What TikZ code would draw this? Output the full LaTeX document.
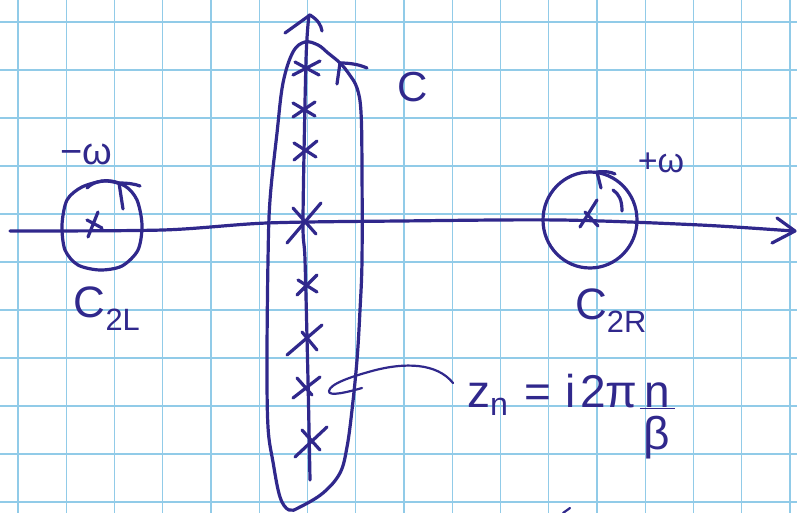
\documentclass[tikz,border=0pt]{standalone}
\usepackage{fontspec}
\setmainfont{Liberation Sans}
\definecolor{ink}{RGB}{48,40,140}
\definecolor{gridblue}{RGB}{145,203,232}
\tikzset{
  inkline/.style={draw=ink, line width=3.2pt, line cap=round, line join=round},
  inkthin/.style={draw=ink, line width=2.2pt, line cap=round, line join=round},
  gridline/.style={draw=gridblue, line width=1.2pt},
  lab/.style={text=ink, inner sep=0pt},
}
\begin{document}
\begin{tikzpicture}[x=1pt,y=-1pt]
\useasboundingbox (0,0) rectangle (797,513);
\fill[white] (0,0) rectangle (797,513);
% grid paper
\foreach \i in {0,...,16} \draw[gridline] ({18+48.25*\i},0) -- ({18+48.25*\i},513);
\foreach \j in {0,...,10} \draw[gridline] (0,{22+48*\j}) -- (797,{22+48*\j});

% pole coordinates
\coordinate (p1) at (307,68);
\coordinate (p2) at (304,109);
\coordinate (p3) at (305,150);
\coordinate (p0) at (303,221);
\coordinate (p4) at (307,285);
\coordinate (p5) at (306,338);
\coordinate (p6) at (305,388);
\coordinate (p7) at (310,441);
\coordinate (wL) at (95,226);
\coordinate (wR) at (589,214);

% real axis
\draw[inkline] plot[smooth] coordinates {(10,231) (163,230) (267,223) (400,221) (560,220) (700,225) (793,231)};
\draw[inkline] (777,218) -- (795,231) -- (772,243);

% imaginary axis
\draw[inkline] plot[smooth] coordinates {(309,15) (306,60) (303,220) (305,260) (308,380) (310,480)};
\draw[inkline] (285,33) -- (310,15) .. controls (318,20) and (321,25) .. (322,31);

% contour C
\draw[inkline] plot[smooth cycle, tension=0.6] coordinates {
  (305,42) (318,45) (328,53) (340,63) (349,74) (357,88) (361,112) (362,170) (362,260)
  (360,310) (357,360) (352,410) (347,447) (340,473) (323,493) (300,507) (289,510)
  (280,497) (273,462) (268,427) (267,360) (268,260) (270,200) (277,133) (283,83) (293,52)};
\draw[inkline] (337,84) -- (340,63) .. controls (352,63) and (360,65) .. (367,68);

% poles on imaginary axis
\draw[inkline] (295,62) -- (319,75) (293,75) -- (320,61);
\draw[inkline] (293,103) -- (315,116) (293,117) -- (315,102);
\draw[inkline] (294,143) -- (316,157) (294,160) -- (317,141);
\draw[inkline] (287,243) -- (321,203) (293,208) -- (316,234);
\draw[inkline] (298,280) -- (317,292) (297,295) -- (317,275);
\draw[inkline] (287,355) -- (322,325) (302,332) -- (317,350);
\draw[inkline] (293,398) -- (320,377) (297,378) -- (312,395);
\draw[inkline] (295,457) -- (327,427) (302,430) -- (320,450);

% left circle C2L
\draw[inkline] plot[smooth cycle] coordinates {
  (105,181) (125,186) (137,200) (142,225) (138,250) (122,266) (100,270)
  (78,265) (65,250) (62,225) (67,200) (82,187)};
\draw[inkline] (87,188) .. controls (95,180) and (108,179) .. (119,183);
\draw[inkline] (123,209) -- (119,183) .. controls (128,183) and (135,184) .. (140,186);
\draw[inkline] (87,220) -- (102,228) (98,212) -- (88,237);

% right circle C2R
\draw[inkline] (590,220) ellipse [x radius=47, y radius=48];
\draw[inkline] (601,188) -- (597,172) .. controls (605,171) and (611,172) .. (615,174);
\draw[inkline] (613,190) .. controls (619,194) and (622,200) .. (622,211);
\draw[inkline] (580,227) -- (597,200) (585,212) -- (598,226);

% labels
\node[lab, font=\fontsize{42}{42}\selectfont] (Clab) at (413,87) {C};
\node[lab, font=\fontsize{38}{38}\selectfont] (mw) at (86,154) {−ω};
\node[lab, font=\fontsize{34}{34}\selectfont] (pw) at (661,163) {+ω};
\node[lab, font=\fontsize{44}{44}\selectfont] (C2L) at (107,309) {C\textsubscript{2L}};
\node[lab, font=\fontsize{44}{44}\selectfont] (C2R) at (611,311) {C\textsubscript{2R}};
\node[lab, font=\fontsize{46}{46}\selectfont, anchor=base west] (zn) at (467,407)
  {z\textsubscript{n}\hspace{0.35em}=\hspace{0.3em}i\hspace{0.1em}2π\hspace{0.05em}\begin{tabular}[t]{@{}c@{}}\underline{\hspace{0.1em}n\hspace{0.1em}}\\[-0.1em]β\end{tabular}};

% connector from formula to pole
\coordinate (zstart) at (453,383);
\coordinate (hookL) at (329,391);
\coordinate (hookR) at (362,388);
\draw[inkthin] (zstart) .. controls (437,363) and (405,362) .. (372,371)
  .. controls (350,377) and (330,384) .. (hookL)
  .. controls (328,397) and (348,392) .. (hookR);

% cut-off stroke at bottom
\coordinate (frag) at (563,513);
\draw[inkthin] (frag) -- (570,508);
\end{tikzpicture}
\end{document}
